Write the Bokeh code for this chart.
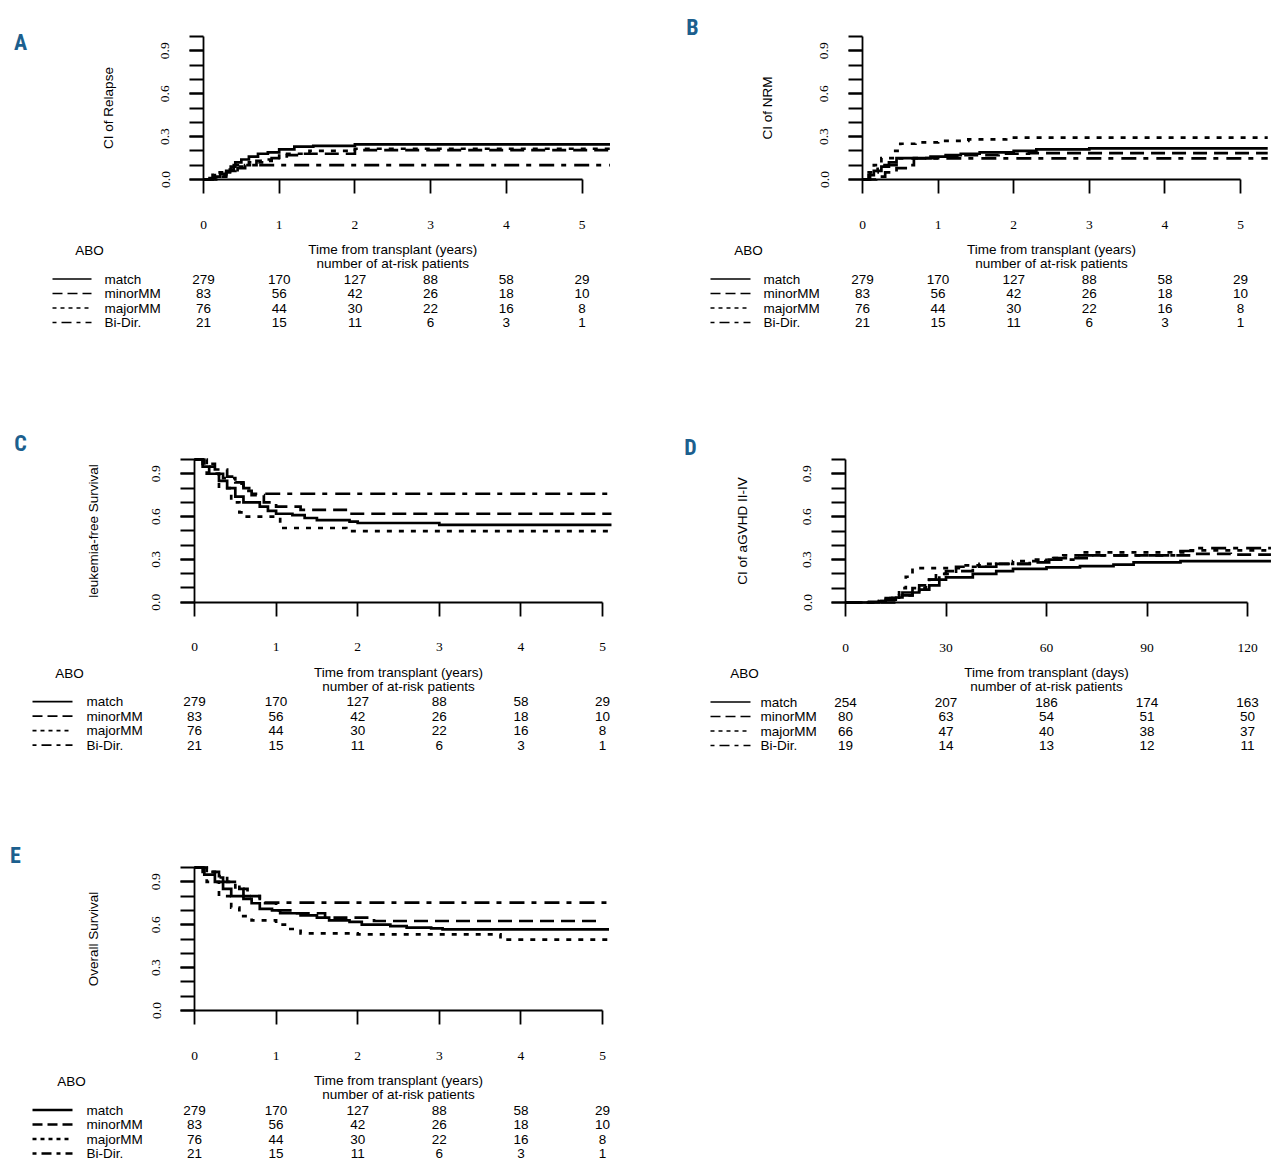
import numpy as np
from bokeh.plotting import figure
from bokeh.models import LinearAxis, FixedTicker, Range1d, PrintfTickFormatter
from bokeh.layouts import column, row
from bokeh.embed import file_html
from bokeh.resources import INLINE
from bokeh.core.properties import value

# ---------------- data ----------------
GROUPS = ["match", "minorMM", "majorMM", "Bi-Dir."]
YEAR_TICKS = [0, 1, 2, 3, 4, 5]
DAY_TICKS = [0, 30, 60, 90, 120]
Y_LABEL_TICKS = [0.0, 0.3, 0.6, 0.9]
Y_MINOR_TICKS = [0.0, 0.1, 0.2, 0.3, 0.4, 0.5, 0.6, 0.7, 0.8, 0.9, 1.0]

# at-risk numbers, years panels (A, B, C, E)
RISK_Y_MATCH = [279, 170, 127, 88, 58, 29]
RISK_Y_MINOR = [83, 56, 42, 26, 18, 10]
RISK_Y_MAJOR = [76, 44, 30, 22, 16, 8]
RISK_Y_BIDIR = [21, 15, 11, 6, 3, 1]
# at-risk numbers, days panel (D)
RISK_D_MATCH = [254, 207, 186, 174, 163]
RISK_D_MINOR = [80, 63, 54, 51, 50]
RISK_D_MAJOR = [66, 47, 40, 38, 37]
RISK_D_BIDIR = [19, 14, 13, 12, 11]

# A: cumulative incidence of relapse (years)
A_MATCH_T = [0, 0.08, 0.15, 0.22, 0.3, 0.36, 0.42, 0.5, 0.6, 0.72, 0.85, 1.0, 1.2, 1.45, 2.0, 5.37]
A_MATCH_Y = [0, 0.01, 0.02, 0.04, 0.06, 0.09, 0.12, 0.14, 0.16, 0.18, 0.19, 0.21, 0.23, 0.235, 0.245, 0.245]
A_MINOR_T = [0, 0.2, 0.3, 0.45, 0.55, 0.7, 0.9, 1.1, 1.3, 2.0, 5.37]
A_MINOR_Y = [0, 0.02, 0.05, 0.08, 0.10, 0.13, 0.15, 0.17, 0.18, 0.205, 0.205]
A_MAJOR_T = [0, 0.15, 0.3, 0.42, 0.6, 0.8, 1.0, 1.4, 2.0, 5.37]
A_MAJOR_Y = [0, 0.03, 0.06, 0.09, 0.12, 0.14, 0.18, 0.2, 0.215, 0.215]
A_BIDIR_T = [0, 0.12, 0.3, 0.4, 5.37]
A_BIDIR_Y = [0, 0.05, 0.07, 0.1, 0.1]

# B: cumulative incidence of NRM (years)
B_MATCH_T = [0, 0.08, 0.15, 0.25, 0.35, 0.45, 0.9, 1.1, 1.3, 1.55, 2.0, 2.3, 3.0, 5.36]
B_MATCH_Y = [0, 0.03, 0.06, 0.09, 0.12, 0.15, 0.16, 0.17, 0.18, 0.19, 0.2, 0.21, 0.217, 0.217]
B_MINOR_T = [0, 0.18, 0.3, 0.45, 0.62, 0.68, 1.0, 1.3, 1.8, 2.2, 5.36]
B_MINOR_Y = [0, 0.02, 0.05, 0.08, 0.10, 0.15, 0.16, 0.17, 0.18, 0.185, 0.185]
B_MAJOR_T = [0, 0.05, 0.15, 0.25, 0.4, 0.5, 0.7, 1.0, 1.4, 1.9, 5.36]
B_MAJOR_Y = [0, 0.05, 0.1, 0.15, 0.2, 0.25, 0.26, 0.27, 0.28, 0.293, 0.293]
B_BIDIR_T = [0, 0.1, 0.2, 0.45, 5.36]
B_BIDIR_Y = [0, 0.05, 0.1, 0.148, 0.148]

# C: leukemia-free survival (years)
C_MATCH_T = [0, 0.1, 0.18, 0.3, 0.4, 0.5, 0.6, 0.8, 0.9, 1.0, 1.2, 1.35, 1.5, 1.9, 2.0, 3.0, 5.11]
C_MATCH_Y = [1, 0.95, 0.9, 0.85, 0.8, 0.74, 0.7, 0.67, 0.64, 0.62, 0.61, 0.59, 0.575, 0.565, 0.555, 0.542, 0.542]
C_MINOR_T = [0, 0.1, 0.25, 0.4, 0.5, 0.6, 0.7, 0.85, 1.0, 1.3, 1.9, 5.11]
C_MINOR_Y = [1, 0.97, 0.93, 0.88, 0.84, 0.78, 0.75, 0.7, 0.67, 0.647, 0.62, 0.62]
C_MAJOR_T = [0, 0.15, 0.3, 0.45, 0.55, 0.62, 1.05, 1.86, 5.11]
C_MAJOR_Y = [1, 0.9, 0.8, 0.7, 0.63, 0.6, 0.52, 0.498, 0.498]
C_BIDIR_T = [0, 0.12, 0.25, 0.35, 0.5, 0.6, 0.67, 5.11]
C_BIDIR_Y = [1, 0.95, 0.9, 0.87, 0.83, 0.8, 0.76, 0.76]

# D: cumulative incidence of aGVHD II-IV (days)
D_MATCH_T = [0, 7, 10, 12, 15, 17, 20, 22, 25, 28, 30, 38, 45, 50, 60, 70, 80, 86, 100, 127]
D_MATCH_Y = [0, 0.005, 0.01, 0.02, 0.035, 0.05, 0.07, 0.09, 0.12, 0.16, 0.176, 0.2, 0.22, 0.235, 0.245, 0.255, 0.265, 0.28, 0.29, 0.29]
D_MINOR_T = [0, 10, 12, 17, 22, 25, 27, 30, 38, 45, 55, 62, 72, 100, 105, 115, 127]
D_MINOR_Y = [0, 0.01, 0.03, 0.07, 0.12, 0.16, 0.2, 0.22, 0.25, 0.27, 0.28, 0.31, 0.33, 0.33, 0.34, 0.335, 0.335]
D_MAJOR_T = [0, 9, 12, 14, 16, 18, 20, 30, 35, 40, 50, 60, 65, 70, 100, 102, 127]
D_MAJOR_Y = [0, 0.01, 0.03, 0.05, 0.1, 0.18, 0.24, 0.24, 0.26, 0.27, 0.29, 0.31, 0.33, 0.35, 0.35, 0.365, 0.365]
D_BIDIR_T = [0, 16, 20, 24, 28, 33, 45, 55, 68, 100, 105, 127]
D_BIDIR_Y = [0, 0.05, 0.1, 0.16, 0.2, 0.25, 0.27, 0.3, 0.33, 0.36, 0.38, 0.38]

# E: overall survival (years)
E_MATCH_T = [0, 0.12, 0.25, 0.35, 0.45, 0.6, 0.7, 0.8, 0.95, 1.05, 1.3, 1.5, 1.65, 1.9, 2.05, 2.4, 2.6, 2.9, 3.04, 5.08]
E_MATCH_Y = [1, 0.95, 0.9, 0.85, 0.8, 0.78, 0.75, 0.71, 0.7, 0.68, 0.665, 0.65, 0.63, 0.62, 0.6, 0.59, 0.58, 0.575, 0.568, 0.568]
E_MINOR_T = [0, 0.15, 0.3, 0.4, 0.55, 0.65, 0.8, 1.0, 1.2, 1.6, 2.2, 4.97]
E_MINOR_Y = [1, 0.97, 0.94, 0.9, 0.85, 0.8, 0.75, 0.7, 0.68, 0.65, 0.626, 0.626]
E_MAJOR_T = [0, 0.15, 0.3, 0.45, 0.55, 0.7, 1.0, 1.15, 1.3, 2.0, 3.75, 5.08]
E_MAJOR_Y = [1, 0.9, 0.8, 0.72, 0.66, 0.63, 0.6, 0.57, 0.54, 0.533, 0.495, 0.495]
E_BIDIR_T = [0, 0.1, 0.25, 0.35, 0.5, 0.6, 0.8, 5.08]
E_BIDIR_Y = [1, 0.97, 0.93, 0.9, 0.85, 0.8, 0.755, 0.755]

# ---------------- styles ----------------
CURVE_DASH = {"match": "solid", "minorMM": "14 7", "majorMM": "5 7", "Bi-Dir.": "15 7 5 8"}
KEY_DASH = {"match": "solid", "minorMM": "10 5", "majorMM": "4 4", "Bi-Dir.": "4 5 10 5"}
LETTER_COLOR = "#1c5f8e"
LETTER_FONT = "'Roboto Condensed', 'DejaVu Sans Condensed', 'Liberation Sans Narrow', Roboto, sans-serif"
SANS = "Liberation Sans"
SERIF = "Liberation Serif"


def panel(w, h, fig_org, origin, ppx, ppy):
    ox = origin[0] - fig_org[0]
    oy = origin[1] - fig_org[1]
    p = figure(width=w, height=h,
               x_range=Range1d(-ox / ppx, (w - ox) / ppx),
               y_range=Range1d(-(h - oy) / ppy, oy / ppy),
               x_axis_type=None, y_axis_type=None,
               toolbar_location=None, output_backend="svg",
               min_border=0, outline_line_color=None,
               background_fill_color="white", border_fill_color="white")
    p.xgrid.visible = False
    p.ygrid.visible = False

    def tx(px):
        return (px - origin[0]) / ppx

    def ty(py):
        return (origin[1] - py) / ppy
    return p, tx, ty


def build(spec):
    p, tx, ty = panel(spec["w"], spec["h"], spec["org"], spec["origin"], spec["ppx"], spec["ppy"])
    ox, oy = spec["origin"]
    ticks = spec["ticks"]

    # axes (R style, at the data origin)
    xa = LinearAxis(fixed_location=0, bounds=(ticks[0], ticks[-1]),
                    ticker=FixedTicker(ticks=ticks),
                    major_tick_out=14, major_tick_in=0, minor_tick_out=0, minor_tick_in=0,
                    axis_line_width=1.8, major_tick_line_width=1.8,
                    major_label_text_font=SERIF, major_label_text_font_size="13.5px",
                    major_label_text_color="black", major_label_standoff=27)
    p.add_layout(xa, "below")
    ya = LinearAxis(fixed_location=0, bounds=(0, 1),
                    ticker=FixedTicker(ticks=Y_LABEL_TICKS, minor_ticks=Y_MINOR_TICKS),
                    formatter=PrintfTickFormatter(format="%.1f"),
                    major_tick_out=14, major_tick_in=0, minor_tick_out=14, minor_tick_in=0,
                    axis_line_width=1.8, major_tick_line_width=1.8, minor_tick_line_width=1.8,
                    major_label_orientation="vertical",
                    major_label_text_font=SERIF, major_label_text_font_size="13.5px",
                    major_label_text_color="black", major_label_standoff=20,
                    axis_label=spec["ylabel"], axis_label_text_font=SANS,
                    axis_label_text_font_style="normal", axis_label_text_font_size="13.5px",
                    axis_label_text_color="black", axis_label_standoff=spec["ylab_standoff"])
    p.add_layout(ya, "left")

    # curves
    for g, (t, y) in zip(GROUPS, spec["curves"]):
        p.step(t, y, mode="after", line_color="black", line_width=2.7,
               line_dash=CURVE_DASH[g], line_join="miter")

    # panel letter
    lx, ly = spec["letter_xy"]
    p.text([tx(lx)], [ty(ly)], text=[spec["letter"]], text_font=value(LETTER_FONT),
           text_font_style="bold", text_font_size="22px", text_color=LETTER_COLOR,
           text_align="center", text_baseline="middle")

    # table header
    mid = (ticks[0] + ticks[-1]) / 2
    p.text([mid, mid], [ty(oy + 70), ty(oy + 84)],
           text=[spec["xtitle"], "number of at-risk patients"],
           text_font=value(SANS), text_font_size="13.5px", text_color="black",
           text_align="center", text_baseline="middle")
    p.text([tx(ox + spec["abo_dx"])], [ty(oy + 71)], text=["ABO"],
           text_font=value(SANS), text_font_size="13.5px", text_color="black",
           text_align="center", text_baseline="middle")

    row_dy = [99.5, 114, 128.5, 143]
    k0, k1 = spec["key_dx"]
    for i, g in enumerate(GROUPS):
        yy = ty(oy + row_dy[i])
        p.segment([tx(ox + k0)], [yy], [tx(ox + k1)], [yy], line_color="black",
                  line_width=spec["key_w"], line_dash=KEY_DASH[g])
        p.text([tx(ox + spec["lab_dx"])], [yy], text=[g],
               text_font=value(SANS), text_font_size="13.5px", text_color="black",
               text_align="left", text_baseline="middle")
        nums = spec["risk"][i]
        p.text(ticks, [yy] * len(ticks), text=[str(n) for n in nums],
               text_font=value(SANS), text_font_size="13.5px", text_color="black",
               text_align="center", text_baseline="middle")
    return p


RISK_YEARS = [RISK_Y_MATCH, RISK_Y_MINOR, RISK_Y_MAJOR, RISK_Y_BIDIR]
RISK_DAYS = [RISK_D_MATCH, RISK_D_MINOR, RISK_D_MAJOR, RISK_D_BIDIR]
XT_YEARS = "Time from transplant (years)"
XT_DAYS = "Time from transplant (days)"

pA = build(dict(w=632, h=412, org=(0, 0), origin=(203, 179), ppx=75.7, ppy=143,
                ticks=YEAR_TICKS, ylabel="CI of Relapse", ylab_standoff=43,
                curves=[(A_MATCH_T, A_MATCH_Y), (A_MINOR_T, A_MINOR_Y), (A_MAJOR_T, A_MAJOR_Y), (A_BIDIR_T, A_BIDIR_Y)],
                letter="A", letter_xy=(20, 42), xtitle=XT_YEARS, abo_dx=-114,
                key_dx=(-151, -112), key_w=1.7, lab_dx=-99, risk=RISK_YEARS))
pB = build(dict(w=640, h=412, org=(632, 0), origin=(862, 179), ppx=75.6, ppy=143,
                ticks=YEAR_TICKS, ylabel="CI of NRM", ylab_standoff=43,
                curves=[(B_MATCH_T, B_MATCH_Y), (B_MINOR_T, B_MINOR_Y), (B_MAJOR_T, B_MAJOR_Y), (B_BIDIR_T, B_BIDIR_Y)],
                letter="B", letter_xy=(692, 27), xtitle=XT_YEARS, abo_dx=-114,
                key_dx=(-152, -112), key_w=1.7, lab_dx=-99, risk=RISK_YEARS))
pC = build(dict(w=632, h=410, org=(0, 412), origin=(194, 601.7), ppx=81.6, ppy=142.7,
                ticks=YEAR_TICKS, ylabel="leukemia-free Survival", ylab_standoff=49,
                curves=[(C_MATCH_T, C_MATCH_Y), (C_MINOR_T, C_MINOR_Y), (C_MAJOR_T, C_MAJOR_Y), (C_BIDIR_T, C_BIDIR_Y)],
                letter="C", letter_xy=(20, 443), xtitle=XT_YEARS, abo_dx=-125,
                key_dx=(-162, -122), key_w=1.7, lab_dx=-108, risk=RISK_YEARS))
pD = build(dict(w=640, h=410, org=(632, 412), origin=(845, 602), ppx=3.35, ppy=143,
                ticks=DAY_TICKS, ylabel="CI of aGVHD II-IV", ylab_standoff=51,
                curves=[(D_MATCH_T, D_MATCH_Y), (D_MINOR_T, D_MINOR_Y), (D_MAJOR_T, D_MAJOR_Y), (D_BIDIR_T, D_BIDIR_Y)],
                letter="D", letter_xy=(690, 447), xtitle=XT_DAYS, abo_dx=-101,
                key_dx=(-135, -95), key_w=1.7, lab_dx=-85, risk=RISK_DAYS))
pE = build(dict(w=632, h=340, org=(0, 822), origin=(194, 1010), ppx=81.6, ppy=143,
                ticks=YEAR_TICKS, ylabel="Overall Survival", ylab_standoff=49,
                curves=[(E_MATCH_T, E_MATCH_Y), (E_MINOR_T, E_MINOR_Y), (E_MAJOR_T, E_MAJOR_Y), (E_BIDIR_T, E_BIDIR_Y)],
                letter="E", letter_xy=(15, 855), xtitle=XT_YEARS, abo_dx=-123,
                key_dx=(-162, -122), key_w=2.6, lab_dx=-108, risk=RISK_YEARS))

layout = column(row(pA, pB), row(pC, pD), pE)
open("out.html", "w").write(file_html(layout, INLINE))
